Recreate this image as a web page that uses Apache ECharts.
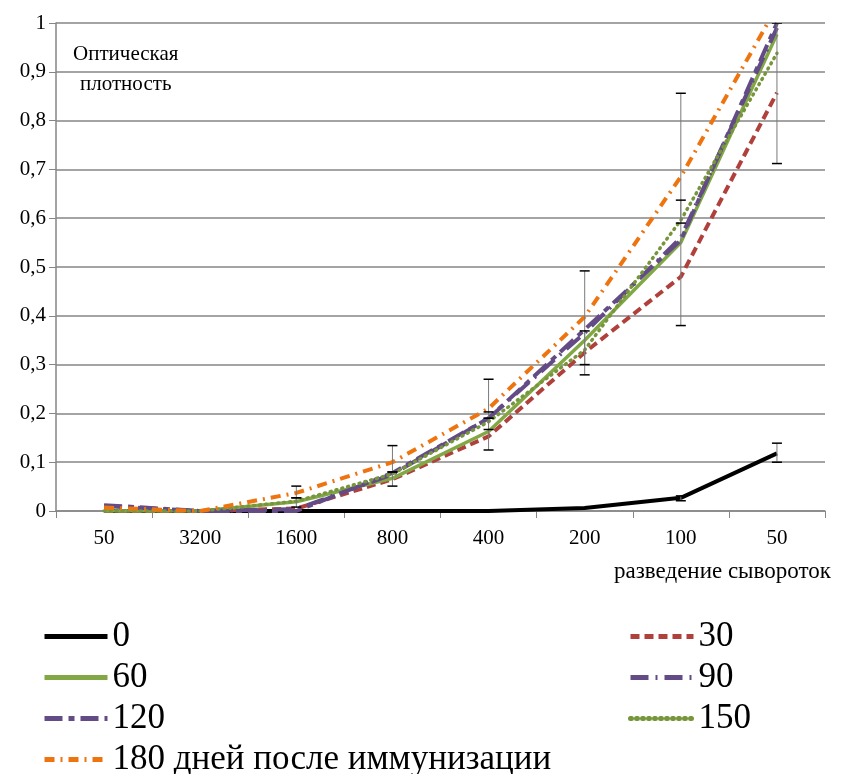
<!DOCTYPE html>
<html>
<head>
<meta charset="utf-8">
<script src="https://cdn.jsdelivr.net/npm/echarts@6/dist/echarts.min.js"></script>
<style>
  html, body { margin: 0; padding: 0; background: #fff; }
  #chart { width: 851px; height: 774px; }
</style>
</head>
<body>
<div id="chart"></div>
<script>
// разведения сывороток (ось X)
var categories = ['50', '3200', '1600', '800', '400', '200', '100', '50'];

// оптическая плотность по дням после иммунизации
var day0   = [0, 0, 0, 0, 0, 0.006, 0.027, 0.118];
var day30  = [0, 0, 0.005, 0.065, 0.153, 0.325, 0.48, 0.857];
var day60  = [0, 0, 0.019, 0.067, 0.163, 0.35, 0.55, 0.977];
var day90  = [0.01, 0, 0.004, 0.075, 0.19, 0.365, 0.56, 0.99];
var day120 = [0.012, 0, 0, 0.078, 0.19, 0.372, 0.555, 1.0];
var day150 = [0, 0, 0.02, 0.076, 0.183, 0.33, 0.596, 0.938];
var day180 = [0.007, 0, 0.037, 0.1, 0.21, 0.398, 0.685, 1.033];

// планки погрешностей: [индекс категории, нижняя, верхняя]
var errorBars = [
    [2, 0.008, 0.051], [2, 0.027, 0.027],
    [3, 0.051, 0.134], [3, 0.08, 0.08],
    [4, 0.125, 0.27], [4, 0.167, 0.203], [4, 0.19, 0.19],
    [5, 0.279, 0.492], [5, 0.30, 0.369],
    [6, 0.38, 0.856], [6, 0.59, 0.637], [6, 0.021, 0.031],
    [7, 0.712, 1.0], [7, 0.1, 0.139]
];

var myChart = echarts.init(document.getElementById('chart'));

var serif = 'Liberation Serif';

function lineSeries(name, data, color, type, width, z, cap) {
    return {
        name: name,
        type: 'line',
        data: data,
        symbol: 'none',
        z: z,
        clip: true,
        lineStyle: {color: color, width: width, type: type, cap: cap || 'butt'},
        itemStyle: {color: color}
    };
}

var legendText = {fontFamily: serif, fontSize: 35, color: '#000', lineHeight: 35};

var option = {
    animation: false,
    backgroundColor: '#fff',
    grid: {left: 56, right: 26, top: 23, bottom: 263},
    legend: [
        {
            orient: 'vertical',
            left: 42, top: 619, height: 180, padding: 0,
            itemWidth: 63, itemHeight: 14, itemGap: 6,
            itemStyle: {opacity: 0},
            lineStyle: {width: 5},
            data: ['0', '60', '120', '180 дней после иммунизации'],
            textStyle: legendText
        },
        {
            orient: 'vertical',
            left: 628, top: 619, height: 180, padding: 0,
            itemWidth: 63, itemHeight: 14, itemGap: 6,
            itemStyle: {opacity: 0},
            lineStyle: {width: 5},
            data: ['30', '90', '150'],
            textStyle: legendText
        }
    ],
    xAxis: {
        type: 'category',
        data: categories,
        boundaryGap: true,
        axisLine: {lineStyle: {color: '#868686', width: 1.5}},
        axisTick: {show: true, length: 7, lineStyle: {color: '#868686'}},
        axisLabel: {fontFamily: serif, fontSize: 21, color: '#000', margin: 17}
    },
    yAxis: {
        type: 'value',
        min: 0, max: 1, interval: 0.1,
        axisLine: {show: true, lineStyle: {color: '#868686', width: 1.5}},
        axisTick: {show: true, length: 7, lineStyle: {color: '#868686'}},
        splitLine: {lineStyle: {color: '#868686', width: 1.5}},
        axisLabel: {
            fontFamily: serif, fontSize: 21, color: '#000', margin: 10,
            formatter: function (v) {
                if (v === 0 || v === 1) return String(v);
                return v.toFixed(1).replace('.', ',');
            }
        }
    },
    graphic: [
        {type: 'text', left: 73, top: 44, style: {text: 'Оптическая', font: '21px "Liberation Serif"', fill: '#000'}},
        {type: 'text', left: 80, top: 74, style: {text: 'плотность', font: '21px "Liberation Serif"', fill: '#000'}},
        {type: 'text', left: 614, top: 560, style: {text: 'разведение сывороток', font: '23px "Liberation Serif"', fill: '#000'}}
    ],
    series: [
        lineSeries('0', day0, '#000000', 'solid', 4, 2),
        lineSeries('30', day30, '#B0403C', [9, 5], 4, 3),
        lineSeries('60', day60, '#82A845', 'solid', 3.5, 4),
        lineSeries('90', day90, '#634C86', [18, 7, 2, 7], 4, 5),
        lineSeries('120', day120, '#634C86', [18, 6, 6, 6], 4, 6),
        lineSeries('150', day150, '#77963C', [1, 5], 3.5, 7, 'round'),
        lineSeries('180 дней после иммунизации', day180, '#EE7410', [10, 6, 2, 6], 4, 8),
        {
            type: 'custom',
            name: 'errors',
            z: 10,
            clip: true,
            data: errorBars,
            renderItem: function (params, api) {
                var lo = api.coord([api.value(0), api.value(1)]);
                var hi = api.coord([api.value(0), api.value(2)]);
                var x = lo[0];
                return {
                    type: 'group',
                    children: [
                        {type: 'line', shape: {x1: x, y1: lo[1], x2: x, y2: hi[1]}, style: {stroke: '#7a7a7a', lineWidth: 1}},
                        {type: 'line', shape: {x1: x - 5, y1: lo[1], x2: x + 5, y2: lo[1]}, style: {stroke: '#000', lineWidth: 1.5}},
                        {type: 'line', shape: {x1: x - 5, y1: hi[1], x2: x + 5, y2: hi[1]}, style: {stroke: '#000', lineWidth: 1.5}}
                    ]
                };
            }
        }
    ]
};

myChart.setOption(option);
</script>
</body>
</html>
